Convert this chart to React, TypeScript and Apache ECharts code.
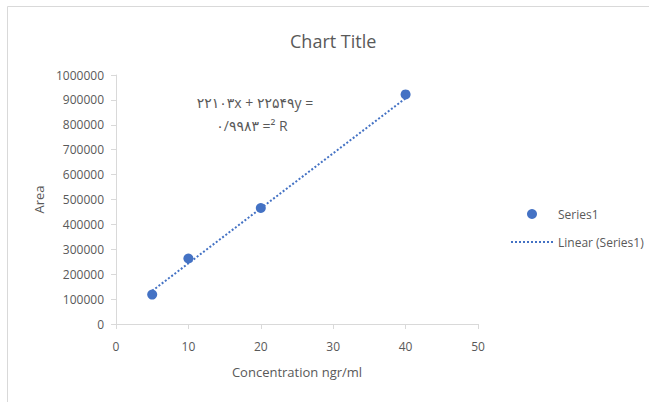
import React, { useEffect, useRef } from "react";
import * as echarts from "echarts";

const concentrations = [5, 10, 20, 40];
const areas = [118000, 263000, 466000, 922000];
const trendSlope = 22103;
const trendIntercept = 22549;
const equationLine1 = "۲۲۱۰۳x + ۲۲۵۴۹y =";
const equationLine2 = "۰/۹۹۸۳ =² R";
const xTicks = { min: 0, max: 50, interval: 10 };
const yTicks = { min: 0, max: 1000000, interval: 100000 };

const BLUE = "#4472C4";
const GREY_TEXT = "#595959";
const AXIS_GREY = "#d9d9d9";
const FONT = "'Open Sans', 'DejaVu Sans', sans-serif";

export default function App() {
  const ref = useRef<HTMLDivElement>(null);

  useEffect(() => {
    document.body.style.margin = "0";
    if (!ref.current) return;
    const chart = echarts.init(ref.current, undefined, { renderer: "svg" });
    const points = concentrations.map((x, i) => [x, areas[i]]);
    const xFirst = concentrations[0];
    const xLast = concentrations[concentrations.length - 1];
    const trend = [
      [xFirst, trendSlope * xFirst + trendIntercept],
      [xLast, trendSlope * xLast + trendIntercept],
    ];
    chart.setOption({
      animation: false,
      backgroundColor: "#ffffff",
      textStyle: { fontFamily: FONT },
      title: {
        text: "Chart Title",
        left: 285,
        top: 27,
        textStyle: { fontSize: 18, fontWeight: "normal", color: GREY_TEXT, fontFamily: FONT },
      },
      grid: { left: 116, right: 171, top: 75, bottom: 78, containLabel: false },
      xAxis: {
        type: "value",
        min: xTicks.min,
        max: xTicks.max,
        interval: xTicks.interval,
        name: "Concentration ngr/ml",
        nameLocation: "middle",
        nameGap: 41,
        nameTextStyle: { fontSize: 13, color: GREY_TEXT, fontFamily: FONT },
        axisLine: { show: true, lineStyle: { color: AXIS_GREY, width: 1 } },
        axisTick: { show: true, length: 5, lineStyle: { color: AXIS_GREY } },
        axisLabel: { fontSize: 12, color: GREY_TEXT, margin: 16, fontFamily: FONT },
        splitLine: { show: false },
      },
      yAxis: {
        type: "value",
        min: yTicks.min,
        max: yTicks.max,
        interval: yTicks.interval,
        name: "Area",
        nameLocation: "middle",
        nameGap: 67,
        nameTextStyle: { fontSize: 13, color: GREY_TEXT, fontFamily: FONT },
        axisLine: { show: true, lineStyle: { color: AXIS_GREY, width: 1 } },
        axisTick: { show: true, length: 5, lineStyle: { color: AXIS_GREY } },
        axisLabel: {
          fontSize: 12,
          color: GREY_TEXT,
          margin: 12,
          fontFamily: FONT,
          formatter: (v: number) => String(v),
        },
        splitLine: { show: false },
      },
      legend: {
        orient: "vertical",
        left: 505,
        top: 203,
        itemWidth: 42,
        itemHeight: 10,
        itemGap: 16,
        textStyle: { fontSize: 12, color: GREY_TEXT, fontFamily: FONT },
        data: [
          { name: "Series1", icon: "circle" },
          { name: "Linear (Series1)", itemStyle: { opacity: 0 } },
        ],
      },
      series: [
        {
          name: "Linear (Series1)",
          type: "line",
          data: trend,
          symbol: "none",
          lineStyle: { color: BLUE, width: 2, type: "dotted" },
          itemStyle: { color: BLUE },
          z: 1,
        },
        {
          name: "Series1",
          type: "scatter",
          data: points,
          symbolSize: 10,
          itemStyle: { color: BLUE, opacity: 1 },
          z: 2,
        },
      ],
      graphic: [
        {
          type: "line",
          shape: { x1: 7.5, y1: 6.5, x2: 649, y2: 6.5 },
          style: { stroke: AXIS_GREY, lineWidth: 1 },
        },
        {
          type: "line",
          shape: { x1: 7.5, y1: 6.5, x2: 7.5, y2: 402 },
          style: { stroke: AXIS_GREY, lineWidth: 1 },
        },
        {
          type: "text",
          x: 255,
          y: 102,
          style: {
            text: equationLine1,
            fill: GREY_TEXT,
            font: `14px ${FONT}`,
            textAlign: "center",
            textVerticalAlign: "middle",
          },
        },
        {
          type: "text",
          x: 252,
          y: 125,
          style: {
            text: equationLine2,
            fill: GREY_TEXT,
            font: `14px ${FONT}`,
            textAlign: "center",
            textVerticalAlign: "middle",
          },
        },
      ],
    });
    return () => chart.dispose();
  }, []);

  return (
    <div
      ref={ref}
      style={{ position: "absolute", left: 0, top: 0, width: 649, height: 402 }}
    />
  );
}
